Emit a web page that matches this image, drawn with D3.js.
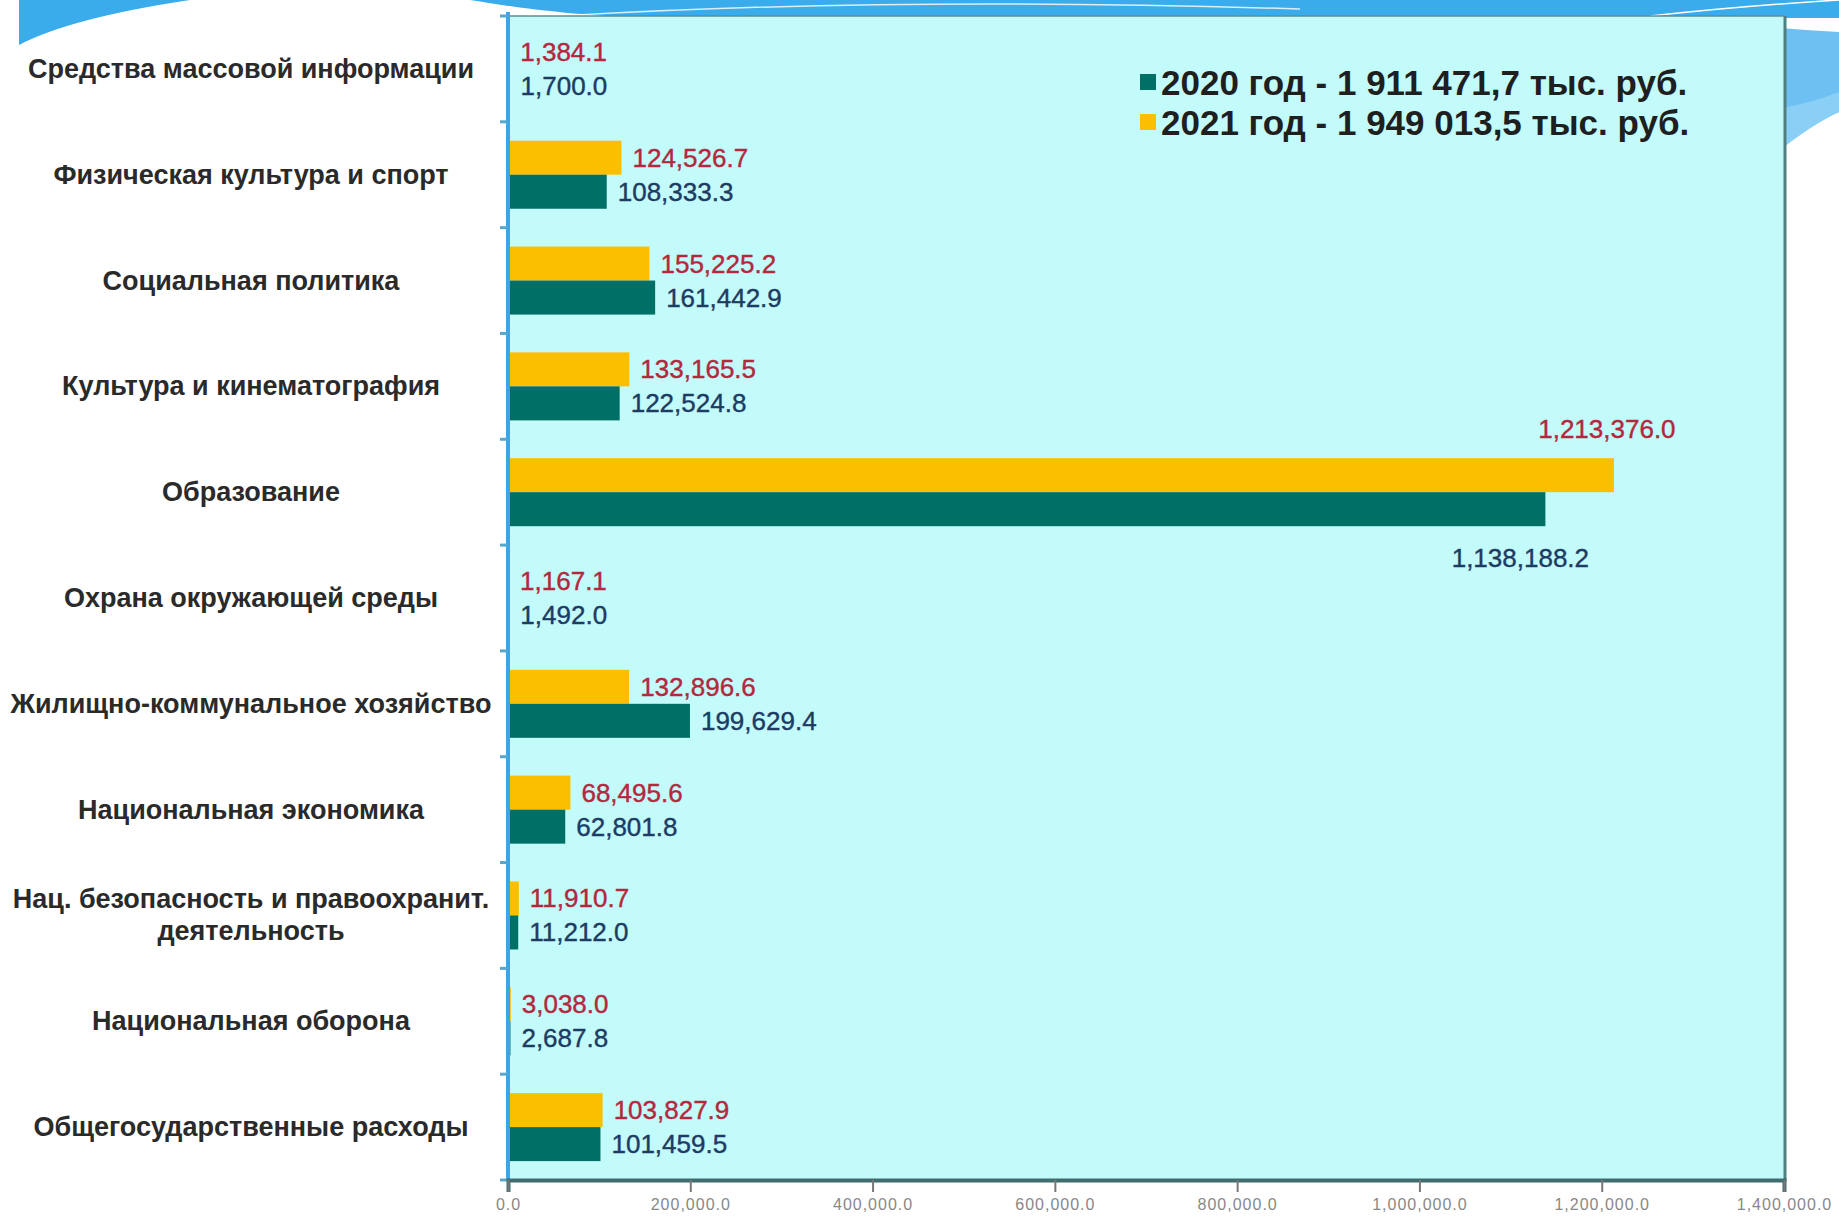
<!DOCTYPE html>
<html><head><meta charset="utf-8">
<script src="https://cdn.jsdelivr.net/npm/d3@7"></script>
<style>html,body{margin:0;padding:0;background:#fff;}svg{display:block;}</style>
</head><body>
<svg id="c" width="1839" height="1217"></svg>
<script>
const categories = [
  ["Средства массовой информации"],
  ["Физическая культура и спорт"],
  ["Социальная политика"],
  ["Культура и кинематография"],
  ["Образование"],
  ["Охрана окружающей среды"],
  ["Жилищно-коммунальное хозяйство"],
  ["Национальная экономика"],
  ["Нац. безопасность и правоохранит.", "деятельность"],
  ["Национальная оборона"],
  ["Общегосударственные расходы"]
];
const values2021 = [1384.1, 124526.7, 155225.2, 133165.5, 1213376.0, 1167.1, 132896.6, 68495.6, 11910.7, 3038.0, 103827.9];
const values2020 = [1700.0, 108333.3, 161442.9, 122524.8, 1138188.2, 1492.0, 199629.4, 62801.8, 11212.0, 2687.8, 101459.5];
const seriesNames = ["2021", "2020"];
const legendLabels = ["2020 год - 1 911 471,7 тыс. руб.", "2021 год - 1 949 013,5 тыс. руб."];
const xTicks = [0, 200000, 400000, 600000, 800000, 1000000, 1200000, 1400000];

const svg = d3.select("#c");
const W = 1839, H = 1217;
const M = {left: 508, right: 1784, top: 16, bottom: 1180};

// decorative theme swooshes
svg.append("path").attr("d","M19,0 L19,45 Q70,18 190,0 Z").attr("fill","#3aacec");
svg.append("path").attr("d","M470,0 C520,8 560,14 640,18 L1839,18 L1839,0 Z").attr("fill","#3aacec");
svg.append("path").attr("d","M1760,26 Q1800,30 1839,32 L1839,112 Q1810,125 1770,158 Z").attr("fill","#6fc0f2");
svg.append("path").attr("d","M1770,110 Q1810,104 1839,92 L1839,112 Q1810,125 1770,158 Z").attr("fill","#8ad0f6");
svg.append("path").attr("d","M560,16 Q900,-4 1300,9").attr("fill","none").attr("stroke","#ffffff").attr("stroke-width",1.5).attr("opacity",0.8);
svg.append("path").attr("d","M1650,16 Q1740,6 1839,0").attr("fill","none").attr("stroke","#ffffff").attr("stroke-width",1.5);

const x = d3.scaleLinear().domain([0, 1400000]).range([M.left, M.right]);
const y = d3.scaleBand().domain(d3.range(categories.length)).range([M.top, M.bottom]).paddingInner(0.357).paddingOuter(0.1785);
const ys = d3.scaleBand().domain(seriesNames).range([0, y.bandwidth()]);
const colors = {"2021": "#fcbf00", "2020": "#006f66"};
const labelColors = {"2021": "#b3283c", "2020": "#1d3b63"};

// plot background
svg.append("rect").attr("x", M.left).attr("y", M.top).attr("width", M.right - M.left).attr("height", M.bottom - M.top)
  .attr("fill", "#c3fbfb");
// shadow / borders
svg.append("line").attr("x1", M.right + 1).attr("x2", M.right + 1).attr("y1", M.top).attr("y2", M.bottom + 2)
  .attr("stroke", "#4f7f7f").attr("stroke-width", 3);
svg.append("line").attr("x1", M.left).attr("x2", M.right).attr("y1", M.top).attr("y2", M.top)
  .attr("stroke", "#5f8f8f").attr("stroke-width", 1.5);

// bars
const data = categories.map((c, i) => ({i, vals: [{s: "2021", v: values2021[i]}, {s: "2020", v: values2020[i]}]}));
const g = svg.append("g");
const groups = g.selectAll("g.cat").data(data).join("g").attr("class", "cat")
  .attr("transform", d => `translate(0,${y(d.i)})`);
groups.selectAll("rect").data(d => d.vals).join("rect")
  .attr("x", x(0)).attr("y", d => ys(d.s)).attr("width", d => x(d.v) - x(0)).attr("height", ys.bandwidth())
  .attr("fill", d => colors[d.s]);

// value labels
const fmt = d3.format(",.1f");
const maxI = d3.maxIndex(values2021);
groups.selectAll("text.val").data(d => d.vals.map(v => ({...v, i: d.i}))).join("text").attr("class", "val")
  .attr("font-family", "Liberation Sans, Arial, sans-serif").attr("font-size", 26)
  .attr("fill", d => labelColors[d.s])
  .attr("stroke", d => labelColors[d.s]).attr("stroke-width", 0.4)
  .attr("dominant-baseline", "central")
  .each(function(d) {
    const t = d3.select(this);
    if (d.i === maxI) {
      t.attr("text-anchor", "middle");
      if (d.s === "2021") t.attr("x", x(d.v) - 7).attr("y", ys(d.s) - 29);
      else t.attr("x", x(d.v) - 25).attr("y", ys(d.s) + ys.bandwidth() + 32);
    } else {
      t.attr("text-anchor", "start").attr("x", x(d.v) + 11).attr("y", ys(d.s) + ys.bandwidth() / 2);
    }
  })
  .text(d => fmt(d.v));

// left axis
const leftAxis = svg.append("g");
leftAxis.append("line").attr("x1", M.left).attr("x2", M.left).attr("y1", M.top - 4).attr("y2", M.bottom)
  .attr("stroke", "#3aa6e8").attr("stroke-width", 4);
leftAxis.selectAll("line.tk").data(d3.range(categories.length + 1)).join("line").attr("class", "tk")
  .attr("x1", M.left - 8).attr("x2", M.left)
  .attr("y1", i => i < categories.length ? y(i) - y.step() * y.paddingInner() / 2 : M.bottom)
  .attr("y2", i => i < categories.length ? y(i) - y.step() * y.paddingInner() / 2 : M.bottom)
  .attr("stroke", "#5aa6c8").attr("stroke-width", 3);

// category labels
const catG = svg.append("g");
catG.selectAll("text").data(categories).join("text")
  .attr("x", 251).attr("text-anchor", "middle")
  .attr("font-family", "Liberation Sans, Arial, sans-serif").attr("font-size", 27).attr("font-weight", "bold")
  .attr("fill", "#2a2a2a")
  .attr("y", (d, i) => y(i) + y.bandwidth() / 2)
  .each(function(d) {
    const t = d3.select(this);
    const n = d.length;
    d.forEach((line, k) => {
      t.append("tspan").attr("x", 251).attr("dy", k === 0 ? (-(n - 1) * 16 + 9) : 32).text(line);
    });
  });

// bottom axis
const xAxis = d3.axisBottom(x).tickValues(xTicks).tickFormat(d3.format(",.1f")).tickSize(12).tickPadding(7);
const ax = svg.append("g").attr("transform", `translate(0,${M.bottom})`).call(xAxis);
ax.select(".domain").attr("stroke", "#3f6c6c").attr("stroke-width", 4);
ax.selectAll(".tick line").attr("stroke", "#777").attr("stroke-width", 2);
ax.selectAll(".tick text").attr("font-family", "Liberation Sans, Arial, sans-serif").attr("font-size", 16)
  .attr("letter-spacing", 1).attr("fill", "#888");

// legend
const lg = svg.append("g");
const legendColors = [colors["2020"], colors["2021"]];
legendLabels.forEach((lab, k) => {
  const cy = 82 + k * 40;
  lg.append("rect").attr("x", 1140).attr("y", cy - 8).attr("width", 16).attr("height", 16).attr("fill", legendColors[k]);
  lg.append("text").attr("x", 1161).attr("y", cy).attr("dominant-baseline", "central")
    .attr("font-family", "Liberation Sans, Arial, sans-serif").attr("font-size", 35).attr("font-weight", "bold")
    .attr("fill", "#1f1f1f").text(lab);
});
</script>
</body></html>
